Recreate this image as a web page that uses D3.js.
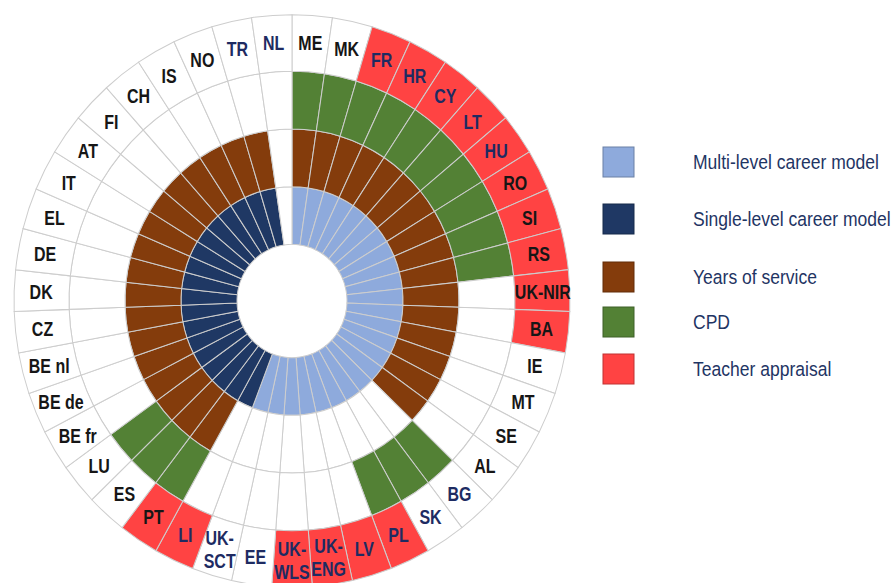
<!DOCTYPE html>
<html>
<head>
<meta charset="utf-8">
<script src="https://cdn.jsdelivr.net/npm/d3@7"></script>
<style>
body { margin: 0; background: #fff; }
text { font-family: Arial, "Liberation Sans", sans-serif; }
</style>
</head>
<body>
<div id="chart"></div>
<script>
const width = 892
const height = 583
const cx = 292
const cy = 301
const yStretch = 1.03   // the original picture is a little taller than wide
const narrow = 0.82     // labels are set in a narrow face

// countries, clockwise from 12 o'clock
const countries = ["ME","MK","FR","HR","CY","LT","HU","RO","SI","RS","UK-NIR","BA","IE","MT","SE","AL",
    "BG","SK","PL","LV","UK-ENG","UK-WLS","EE","UK-SCT","LI","PT","ES","LU","BE fr","BE de","BE nl",
    "CZ","DK","DE","EL","IT","AT","FI","CH","IS","NO","TR","NL"]

// M = multi-level, S = single-level, - = none
const careerModel = ["M","M","M","M","M","M","M","M","M","M","M","M","M","M","M","M",
    "M","M","M","M","M","M","M","M","S","S","S","S","S","S","S",
    "S","S","S","S","S","S","S","S","S","S","S","-"]
const yearsOfService = [1,1,1,1,1,1,1,1,1,1,1,1,1,1,1,1,
    0,0,0,0,0,0,0,0,0,1,1,1,1,1,1,
    1,1,1,1,1,1,1,1,1,1,1,0]
const cpd = [1,1,1,1,1,1,1,1,1,1,0,0,0,0,0,0,
    1,1,1,0,0,0,0,0,0,1,1,1,0,0,0,
    0,0,0,0,0,0,0,0,0,0,0,0]
const appraisal = [0,0,1,1,1,1,1,1,1,1,1,1,0,0,0,0,
    0,0,1,1,1,1,0,0,1,1,0,0,0,0,0,
    0,0,0,0,0,0,0,0,0,0,0,0]

const navyLabels = ["FR","HR","CY","LT","HU","BG","SK","PL","LV","UK-ENG","UK-WLS","EE","UK-SCT","LI","TR","NL"]

const legendLabels = ["Multi-level career model","Single-level career model","Years of service","CPD","Teacher appraisal"]
const legendColors = ["#8eaadc","#1f3864","#843c0c","#538135","#ff4343"]

const svg = d3.select("#chart").append("svg").attr("width", width).attr("height", height)

const angle = d3.scaleBand().domain(countries).range([0, 2 * Math.PI])
const ring = d3.scaleOrdinal()
    .domain(["career","years","cpd","appraisal"])
    .range([[55,111],[111,167],[167,223],[223,278]])

const cells = []
countries.forEach((c, i) => {
    let careerFill = careerModel[i] == "M" ? legendColors[0] : careerModel[i] == "S" ? legendColors[1] : "white"
    cells.push({country: c, ring: "career", fill: careerFill})
    cells.push({country: c, ring: "years", fill: yearsOfService[i] ? legendColors[2] : "white"})
    cells.push({country: c, ring: "cpd", fill: cpd[i] ? legendColors[3] : "white"})
    cells.push({country: c, ring: "appraisal", fill: appraisal[i] ? legendColors[4] : "white"})
})

const arc = d3.arc()
    .innerRadius(d => ring(d.ring)[0])
    .outerRadius(d => ring(d.ring)[1])
    .startAngle(d => angle(d.country))
    .endAngle(d => angle(d.country) + angle.bandwidth())

const wheel = svg.append("g").attr("id", "wheel")
    .attr("transform", `translate(${cx}, ${cy}) scale(1, ${yStretch})`)

wheel.selectAll("path")
    .data(cells)
    .join("path")
        .attr("d", arc)
        .attr("fill", d => d.fill)
        .attr("stroke", "#cdcdcd")
        .attr("stroke-width", 1)

// country labels in the outer ring
const labelR = 251
const labelGroup = svg.append("g").attr("id", "labels")
const labels = labelGroup.selectAll("text")
    .data(countries)
    .join("text")
        .attr("transform", d => {
            let a = angle(d) + angle.bandwidth() / 2
            let x = cx + labelR * Math.sin(a)
            let y = cy - labelR * Math.cos(a) * yStretch
            return `translate(${x}, ${y}) scale(${narrow}, 1)`
        })
        .attr("text-anchor", "middle")
        .attr("font-size", 19.5)
        .attr("font-weight", "bold")
        .attr("fill", d => navyLabels.includes(d) ? "#1e2b62" : "#161616")

labels.each(function(d) {
    let t = d3.select(this)
    if (d.startsWith("UK-") && d != "UK-NIR") {
        t.append("tspan").attr("x", 0).attr("y", -4).text("UK-")
        t.append("tspan").attr("x", 0).attr("y", 19).text(d.slice(3))
    } else {
        t.append("tspan").attr("x", 0).attr("y", 7).text(d)
    }
})

// legend
const legendPos = [162, 219, 277, 322, 369]
const legend = svg.append("g").attr("id", "legend")
const items = legend.selectAll("g")
    .data(legendLabels)
    .join("g")
        .attr("transform", (d, i) => `translate(0, ${legendPos[i]})`)

items.append("rect")
    .attr("x", 603)
    .attr("y", -15)
    .attr("width", 31)
    .attr("height", 30)
    .attr("fill", (d, i) => legendColors[i])
    .attr("stroke", (d, i) => d3.color(legendColors[i]).darker(0.8))
    .attr("stroke-width", 1)

items.append("text")
    .text(d => d)
    .attr("transform", `translate(693, 7) scale(0.855, 1)`)
    .attr("font-size", 20.5)
    .attr("fill", "#1f3564")
</script>
</body>
</html>
